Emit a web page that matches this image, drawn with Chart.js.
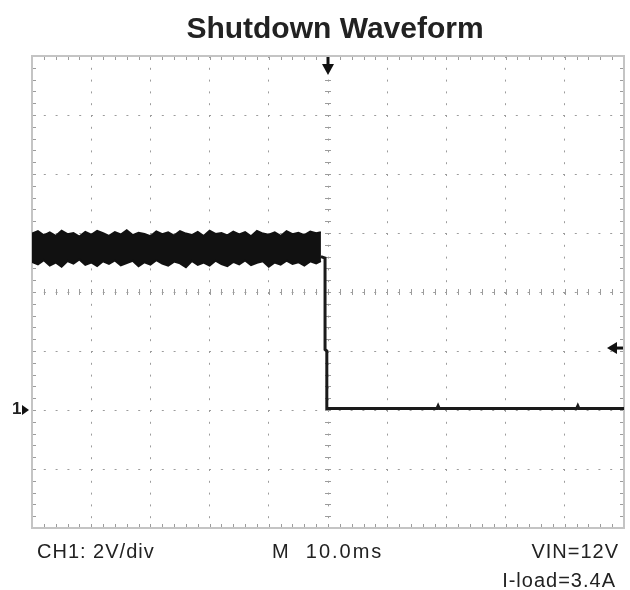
<!DOCTYPE html>
<html>
<head>
<meta charset="utf-8">
<script src="https://cdn.jsdelivr.net/npm/chart.js@4"></script>
<style>
    body { margin: 0; background: #fff; }
    #wrap { position: relative; width: 630px; height: 590px; font-family: "Liberation Sans", Arial, sans-serif; color: #222; }
    #scope { position: absolute; left: 0; top: 0; }
    .lbl { position: absolute; line-height: 1; white-space: nowrap; font-size: 20px; letter-spacing: 1px; }
    #title { position: absolute; left: 0; width: 670px; top: 13px; text-align: center; font-size: 30px; font-weight: bold; line-height: 1; }
</style>
</head>
<body>
<div id="wrap">
    <canvas id="scope" width="630" height="590"></canvas>
    <div id="title">Shutdown Waveform</div>
    <div class="lbl" style="left:12px; top:400px; font-size:17px; font-weight:bold; letter-spacing:0;">1</div>
    <div class="lbl" style="left:37px; top:541px;">CH1: 2V/div</div>
    <div class="lbl" style="left:272px; top:541px; letter-spacing:2px;">M&nbsp;&nbsp;10.0ms</div>
    <div class="lbl" style="right:11px; top:541px;">VIN=12V</div>
    <div class="lbl" style="right:14px; top:570px;">I-load=3.4A</div>
</div>
<script>
// Развёртка: 10 мс/дел, канал 1: 2 В/дел
const timeMin = -50, timeMax = 50, timeStep = 10;
const voltMin = -4, voltMax = 12, voltStep = 2;
const triggerLevel = 2.1;

// Шумовая полоса до выключения (верхняя и нижняя огибающие)
const bandTimes = [-50, -49, -48, -47, -46, -45, -44, -43, -42, -41,
                   -40, -39, -38, -37, -36, -35, -34, -33, -32, -31,
                   -30, -29, -28, -27, -26, -25, -24, -23, -22, -21,
                   -20, -19, -18, -17, -16, -15, -14, -13, -12, -11,
                   -10, -9, -8, -7, -6, -5, -4, -3, -2, -1.2];
const bandHigh = [5.98, 6.06, 5.92, 6.02, 5.9, 6.08, 5.96, 6.0, 5.88, 6.04,
                  5.94, 6.07, 5.99, 5.9, 6.03, 5.95, 6.09, 5.93, 6.01, 5.97,
                  5.89, 6.05, 5.96, 6.02, 5.91, 6.06, 5.98, 5.93, 6.04, 5.9,
                  6.08, 5.97, 6.0, 5.92, 6.05, 5.95, 6.03, 5.89, 6.07, 5.98,
                  5.94, 6.02, 5.9, 6.06, 5.96, 6.01, 5.93, 6.05, 5.99, 6.03];
const bandLow = [5.02, 4.94, 5.08, 4.9, 5.0, 4.86, 5.05, 4.96, 5.1, 4.92,
                 5.0, 4.88, 5.04, 4.95, 5.07, 4.9, 4.98, 5.06, 4.87, 5.01,
                 4.93, 5.08, 4.96, 4.89, 5.03, 4.97, 4.84, 5.05, 4.92, 5.0,
                 4.9, 5.06, 4.95, 4.88, 5.02, 4.94, 5.07, 4.91, 4.99, 5.04,
                 4.86, 5.0, 4.93, 5.06, 4.95, 5.01, 4.9, 5.04, 4.97, 5.05];

// Спад и уровень после выключения
const traceTimes = [-1.2, -0.5, -0.5, -0.2, -0.2, 18.4, 18.6, 18.8, 42.0, 42.2, 42.4, 50];
const traceVolts = [5.2, 5.15, 2.05, 2.0, 0.05, 0.05, 0.14, 0.05, 0.05, 0.14, 0.05, 0.05];

const gridColor = '#9c9c9c';
const frameColor = '#c4c4c4';

function toPoints(xs, ys) {
    return xs.map((t, i) => ({ x: t, y: ys[i] }));
}

// Рамка, мелкие риски и маркеры осциллографа
const scopeDecor = {
    id: 'scopeDecor',
    beforeDatasetsDraw(chart) {
        const { ctx, chartArea: a, scales: { x, y } } = chart;
        const cx = x.getPixelForValue((timeMin + timeMax) / 2);
        const cy = y.getPixelForValue((voltMin + voltMax) / 2);
        ctx.save();
        ctx.strokeStyle = gridColor;
        ctx.lineWidth = 1;
        ctx.beginPath();
        for (let t = timeMin; t <= timeMax + 0.001; t += timeStep / 5) {
            const px = Math.round(x.getPixelForValue(t)) + 0.5;
            ctx.moveTo(px, a.top); ctx.lineTo(px, a.top + 4);
            ctx.moveTo(px, a.bottom); ctx.lineTo(px, a.bottom - 4);
            ctx.moveTo(px, cy - 3); ctx.lineTo(px, cy + 3);
        }
        for (let v = voltMin; v <= voltMax + 0.001; v += voltStep / 5) {
            const py = Math.round(y.getPixelForValue(v)) + 0.5;
            ctx.moveTo(a.left, py); ctx.lineTo(a.left + 4, py);
            ctx.moveTo(a.right, py); ctx.lineTo(a.right - 4, py);
            ctx.moveTo(cx - 3, py); ctx.lineTo(cx + 3, py);
        }
        ctx.stroke();
        ctx.strokeStyle = frameColor;
        ctx.lineWidth = 2;
        ctx.strokeRect(a.left, a.top, a.right - a.left, a.bottom - a.top);
        ctx.restore();
    },
    afterDatasetsDraw(chart) {
        const { ctx, chartArea: a, scales: { x, y } } = chart;
        ctx.save();
        ctx.fillStyle = '#111';
        ctx.strokeStyle = '#111';
        ctx.lineWidth = 3;
        // стрелка позиции триггера сверху
        const tx = x.getPixelForValue(0);
        ctx.beginPath();
        ctx.moveTo(tx, a.top + 1); ctx.lineTo(tx, a.top + 10);
        ctx.stroke();
        ctx.beginPath();
        ctx.moveTo(tx - 6, a.top + 8); ctx.lineTo(tx + 6, a.top + 8); ctx.lineTo(tx, a.top + 19);
        ctx.closePath(); ctx.fill();
        // стрелка уровня триггера справа
        const ly = y.getPixelForValue(triggerLevel);
        ctx.beginPath();
        ctx.moveTo(a.right - 1, ly); ctx.lineTo(a.right - 9, ly);
        ctx.stroke();
        ctx.beginPath();
        ctx.moveTo(a.right - 7, ly - 6); ctx.lineTo(a.right - 7, ly + 6); ctx.lineTo(a.right - 17, ly);
        ctx.closePath(); ctx.fill();
        // маркер земли канала 1
        const gy = y.getPixelForValue(0);
        ctx.beginPath();
        ctx.moveTo(a.left - 10, gy - 5); ctx.lineTo(a.left - 10, gy + 5); ctx.lineTo(a.left - 3, gy);
        ctx.closePath(); ctx.fill();
        ctx.restore();
    }
};

new Chart(document.getElementById('scope'), {
    type: 'line',
    data: {
        datasets: [
            {
                label: 'high',
                data: toPoints(bandTimes, bandHigh),
                borderColor: '#111',
                borderWidth: 2,
                pointRadius: 0,
                tension: 0,
                fill: false
            },
            {
                label: 'low',
                data: toPoints(bandTimes, bandLow),
                borderColor: '#111',
                backgroundColor: '#111',
                borderWidth: 2,
                pointRadius: 0,
                tension: 0,
                fill: '-1'
            },
            {
                label: 'trace',
                data: toPoints(traceTimes, traceVolts),
                borderColor: '#1a1a1a',
                borderWidth: 3,
                pointRadius: 0,
                tension: 0,
                fill: false
            }
        ]
    },
    options: {
        responsive: false,
        animation: false,
        layout: { padding: { left: 32, top: 56, right: 6, bottom: 62 } },
        plugins: {
            legend: { display: false },
            tooltip: { enabled: false }
        },
        scales: {
            x: {
                type: 'linear',
                min: timeMin,
                max: timeMax,
                ticks: { display: false, stepSize: timeStep },
                grid: { color: gridColor, lineWidth: 1, drawTicks: false },
                border: { display: false, dash: [2, 9.8] }
            },
            y: {
                type: 'linear',
                min: voltMin,
                max: voltMax,
                ticks: { display: false, stepSize: voltStep },
                grid: { color: gridColor, lineWidth: 1, drawTicks: false },
                border: { display: false, dash: [2, 9.8] }
            }
        }
    },
    plugins: [scopeDecor]
});
</script>
</body>
</html>
